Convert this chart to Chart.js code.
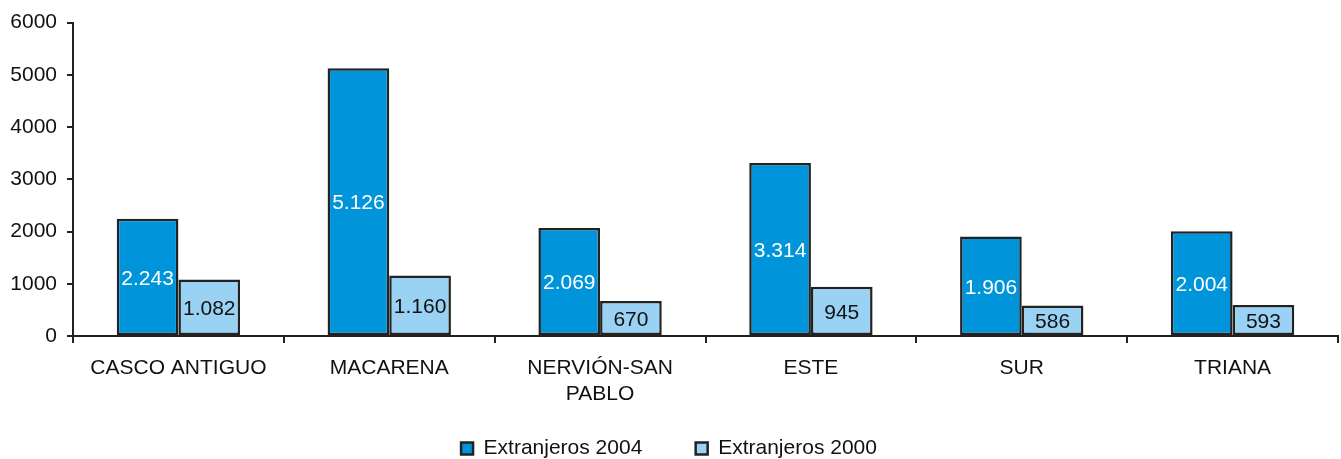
<!DOCTYPE html>
<html>
<head>
<meta charset="utf-8">
<script src="https://cdn.jsdelivr.net/npm/chart.js@4/dist/chart.umd.min.js"></script>
<style>
html,body{margin:0;padding:0;background:#fff;}
#wrap{width:1341px;height:459px;position:relative;}
</style>
</head>
<body>
<div id="wrap"><canvas id="c" width="1341" height="459"></canvas></div>
<script>
const categories = ["CASCO ANTIGUO", "MACARENA", ["NERVIÓN-SAN", "PABLO"], "ESTE", "SUR", "TRIANA"];
const extranjeros2004 = [2243, 5126, 2069, 3314, 1906, 2004];
const extranjeros2000 = [1082, 1160, 670, 945, 586, 593];
const yTicks = [0, 1000, 2000, 3000, 4000, 5000, 6000];

const FONT = "'Liberation Sans', Arial, sans-serif";
const FS = 21;
const fmt = v => v.toLocaleString('de-DE');

const valueLabels = {
  id: 'valueLabels',
  afterDatasetsDraw(chart) {
    const ctx = chart.ctx;
    ctx.save();
    ctx.font = FS + "px " + FONT;
    ctx.textAlign = 'center';
    ctx.textBaseline = 'middle';
    chart.data.datasets.forEach((ds, i) => {
      const meta = chart.getDatasetMeta(i);
      meta.data.forEach((bar, j) => {
        const mid = (bar.y + bar.base) / 2;
        ctx.fillStyle = i === 0 ? '#ffffff' : '#111111';
        ctx.fillText(fmt(ds.data[j]), bar.x, mid + 2);
      });
    });
    ctx.restore();
  }
};

new Chart(document.getElementById('c'), {
  type: 'bar',
  data: {
    labels: categories,
    datasets: [
      { label: 'Extranjeros 2004', data: extranjeros2004, backgroundColor: '#0094DA', borderColor: '#222222', borderWidth: 2.5, borderSkipped: false },
      { label: 'Extranjeros 2000', data: extranjeros2000, backgroundColor: '#9AD2F3', borderColor: '#222222', borderWidth: 2.5, borderSkipped: false }
    ]
  },
  options: {
    responsive: false,
    animation: false,
    devicePixelRatio: 1,
    layout: { padding: { left: 0, right: 3, top: 21, bottom: -10 } },
    datasets: { bar: { categoryPercentage: 0.585, barPercentage: 1.0 } },
    plugins: {
      legend: {
        position: 'bottom',
        labels: {
          font: { size: FS, family: FONT },
          color: '#111',
          boxWidth: 12,
          boxHeight: 12,
          padding: 30,
          generateLabels(chart) {
            const items = Chart.defaults.plugins.legend.labels.generateLabels(chart);
            items.forEach((it, i) => { if (i < items.length - 1) it.text = it.text + '    '; });
            return items;
          }
        }
      },
      tooltip: { enabled: false }
    },
    scales: {
      x: {
        grid: { display: true, drawOnChartArea: false, offset: true, color: '#222', lineWidth: 2, tickLength: 7 },
        border: { display: true, color: '#222', width: 2 },
        ticks: { font: { size: FS, family: FONT, lineHeight: 1.25 }, color: '#111', padding: 12, maxRotation: 0 },
        afterFit(s) { s.height = 72; }
      },
      y: {
        min: 0, max: 6000,
        afterBuildTicks(s) { s.ticks = yTicks.map(v => ({ value: v })); },
        grid: { display: true, drawOnChartArea: false, color: '#222', lineWidth: 2, tickLength: 6 },
        border: { display: true, color: '#222', width: 2 },
        ticks: { font: { size: FS, family: FONT }, color: '#111', padding: 10, callback: v => String(v) },
        afterFit(s) { s.width = 73; }
      }
    }
  },
  plugins: [valueLabels]
});
</script>
</body>
</html>
